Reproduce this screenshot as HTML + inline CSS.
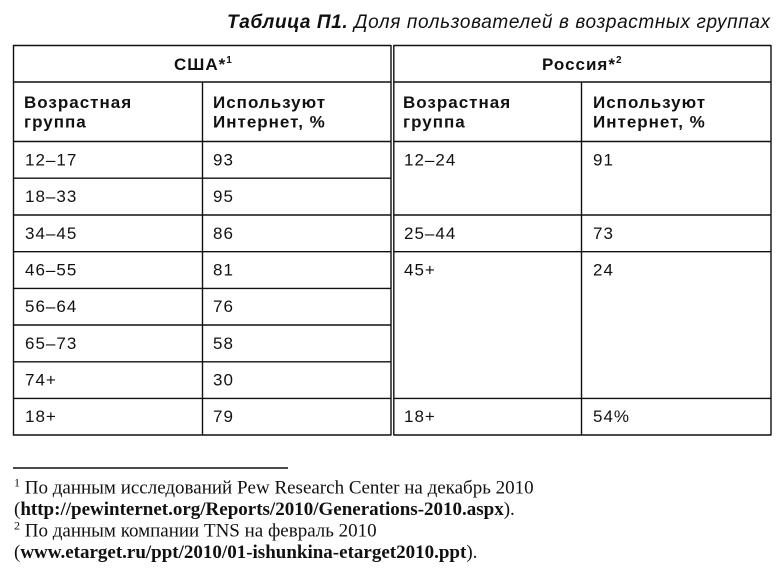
<!DOCTYPE html>
<html><head><meta charset="utf-8"><style>
html,body{margin:0;padding:0;background:#fff;}
svg{display:block;}
.s{font-family:"Liberation Sans",Arial,sans-serif;font-size:17px;letter-spacing:1px;fill:#111;}
.b{font-weight:bold;}
.t{font-family:"Liberation Sans",Arial,sans-serif;font-size:19px;font-style:italic;fill:#111;}
.f{font-family:"Liberation Serif","Times New Roman",serif;font-size:19px;fill:#111;}
</style></head><body>
<svg width="779" height="574" viewBox="0 0 779 574" xmlns="http://www.w3.org/2000/svg">
<g stroke="#111" stroke-width="1.4" fill="none">
<line x1="13" y1="45.5" x2="391" y2="45.5"/>
<line x1="13" y1="82" x2="391" y2="82"/>
<line x1="13" y1="141.5" x2="391" y2="141.5"/>
<line x1="13" y1="178.2" x2="391" y2="178.2"/>
<line x1="13" y1="215" x2="391" y2="215"/>
<line x1="13" y1="251.7" x2="391" y2="251.7"/>
<line x1="13" y1="288.4" x2="391" y2="288.4"/>
<line x1="13" y1="325" x2="391" y2="325"/>
<line x1="13" y1="361.8" x2="391" y2="361.8"/>
<line x1="13" y1="398.4" x2="391" y2="398.4"/>
<line x1="13" y1="435" x2="391" y2="435"/>
<line x1="13.5" y1="45" x2="13.5" y2="435.5"/>
<line x1="202.5" y1="82" x2="202.5" y2="435.5"/>
<line x1="391" y1="45" x2="391" y2="435.5"/>
<line x1="393.8" y1="45.5" x2="771" y2="45.5"/>
<line x1="393.8" y1="82" x2="771" y2="82"/>
<line x1="393.8" y1="141.5" x2="771" y2="141.5"/>
<line x1="393.8" y1="215" x2="771" y2="215"/>
<line x1="393.8" y1="251.7" x2="771" y2="251.7"/>
<line x1="393.8" y1="398.4" x2="771" y2="398.4"/>
<line x1="393.8" y1="435" x2="771" y2="435"/>
<line x1="393.8" y1="45" x2="393.8" y2="435.5"/>
<line x1="581.5" y1="82" x2="581.5" y2="435.5"/>
<line x1="771" y1="45" x2="771" y2="435.5"/>
<line x1="13" y1="468" x2="288" y2="468"/>
</g>

<text class="t" x="227" y="28" textLength="543" lengthAdjust="spacing"><tspan font-weight="bold">Таблица П1.</tspan> Доля пользователей в возрастных группах</text>

<text class="s b" x="174" y="70">США*<tspan font-size="10" dy="-7" letter-spacing="0">1</tspan></text>
<text class="s b" x="542" y="70">Россия*<tspan font-size="10" dy="-7" letter-spacing="0">2</tspan></text>

<text class="s b" x="24" y="108">Возрастная</text>
<text class="s b" x="24" y="127.5">группа</text>
<text class="s b" x="213" y="108">Используют</text>
<text class="s b" x="213" y="127.5">Интернет, %</text>
<text class="s b" x="403" y="108">Возрастная</text>
<text class="s b" x="403" y="127.5">группа</text>
<text class="s b" x="593" y="108">Используют</text>
<text class="s b" x="593" y="127.5">Интернет, %</text>

<text class="s" x="25" y="165.3">12–17</text><text class="s" x="213" y="165.3">93</text>
<text class="s" x="25" y="202">18–33</text><text class="s" x="213" y="202">95</text>
<text class="s" x="25" y="238.8">34–45</text><text class="s" x="213" y="238.8">86</text>
<text class="s" x="25" y="275.5">46–55</text><text class="s" x="213" y="275.5">81</text>
<text class="s" x="25" y="312.2">56–64</text><text class="s" x="213" y="312.2">76</text>
<text class="s" x="25" y="349">65–73</text><text class="s" x="213" y="349">58</text>
<text class="s" x="25" y="385.6">74+</text><text class="s" x="213" y="385.6">30</text>
<text class="s" x="25" y="422.2">18+</text><text class="s" x="213" y="422.2">79</text>

<text class="s" x="404" y="165.3">12–24</text><text class="s" x="593" y="165.3">91</text>
<text class="s" x="404" y="238.8">25–44</text><text class="s" x="593" y="238.8">73</text>
<text class="s" x="404" y="275.5">45+</text><text class="s" x="593" y="275.5">24</text>
<text class="s" x="404" y="422.2">18+</text><text class="s" x="593" y="422.2">54%</text>

<text class="f" x="14" y="493.5"><tspan font-size="12" dy="-7">1</tspan><tspan dy="7"> По данным исследований Pew Research Center на декабрь 2010</tspan></text>
<text class="f" x="14" y="515">(<tspan font-weight="bold">http://pewinternet.org/Reports/2010/Generations-2010.aspx</tspan>).</text>
<text class="f" x="14" y="536.5"><tspan font-size="12" dy="-7">2</tspan><tspan dy="7"> По данным компании TNS на февраль 2010</tspan></text>
<text class="f" x="14" y="558">(<tspan font-weight="bold">www.etarget.ru/ppt/2010/01-ishunkina-etarget2010.ppt</tspan>).</text>
</svg>
</body></html>
